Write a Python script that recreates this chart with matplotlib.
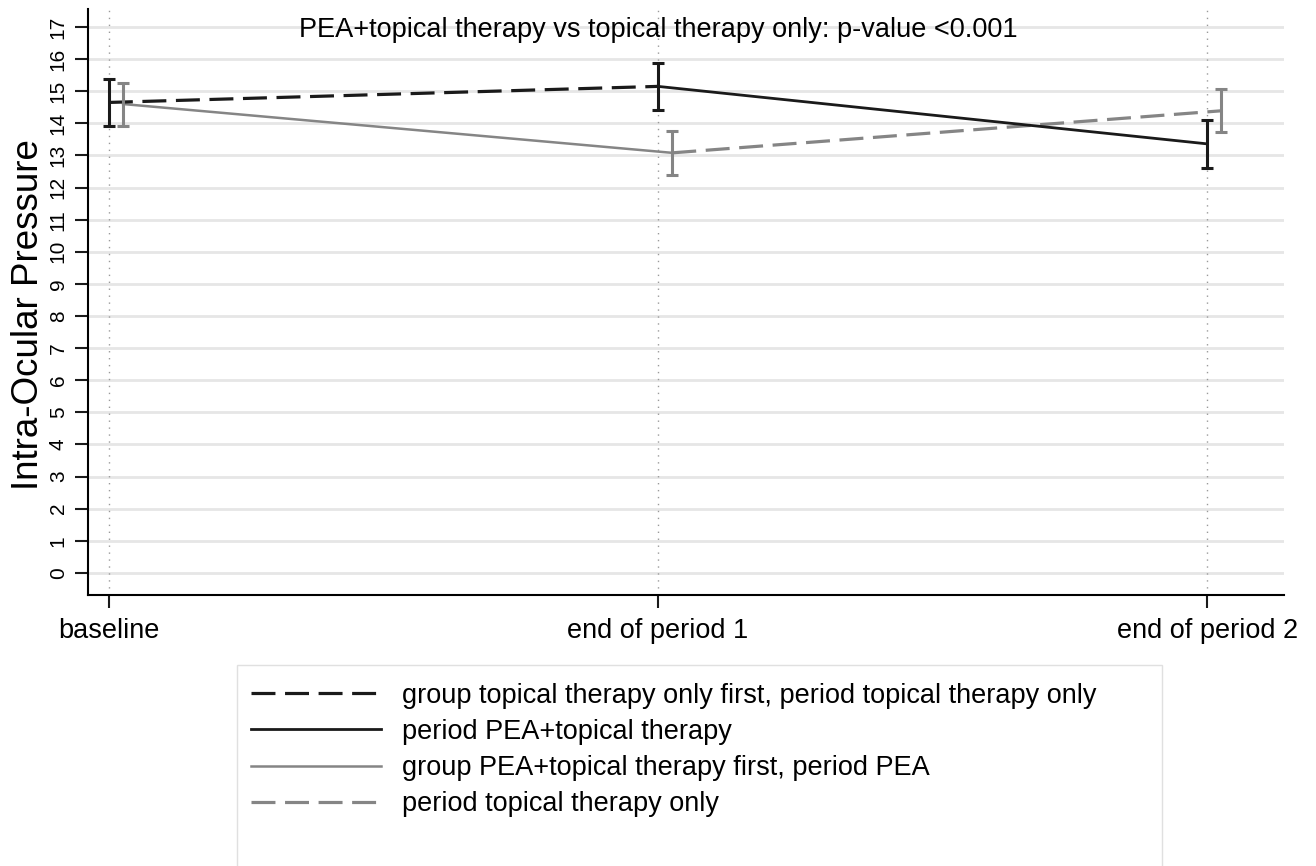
import matplotlib.pyplot as plt
from matplotlib.patches import Rectangle
import numpy as np

plt.rcParams['font.family'] = ['Liberation Sans', 'DejaVu Sans']

# --- data ---
timepoints = ['baseline', 'end of period 1', 'end of period 2']
# group topical therapy only first (black)
topical_first_mean = [14.65, 15.15, 13.36]
topical_first_lo = [13.92, 14.41, 12.62]
topical_first_hi = [15.38, 15.89, 14.10]
# group PEA+topical therapy first (gray)
pea_first_mean = [14.60, 13.08, 14.39]
pea_first_lo = [13.93, 12.39, 13.72]
pea_first_hi = [15.24, 13.76, 15.06]

yticks = list(range(0, 18))
title = 'PEA+topical therapy vs topical therapy only: p-value <0.001'
labels = ['group topical therapy only first, period topical therapy only',
          'period PEA+topical therapy',
          'group PEA+topical therapy first, period PEA',
          'period topical therapy only']

black = '#1a1a1a'
gray = '#858585'

fig = plt.figure(figsize=(13.16, 8.66), dpi=100)
ax = fig.add_axes([88 / 1316, 1 - 595 / 866, (1284 - 88) / 1316, (595 - 9) / 866])

x = np.arange(len(timepoints))
xg = x + 0.026

# grid
for v in yticks:
    ax.axhline(v, color='#e6e6e6', lw=2, zorder=0)
for xv in x:
    ax.axvline(xv, color='#9a9a9a', lw=1, ls=(0, (1, 4)), zorder=0)

# lines
l1, = ax.plot(x[:2], topical_first_mean[:2], color=black, lw=2.3, ls=(0, (7.5, 3)), zorder=3)
l2, = ax.plot(x[1:], topical_first_mean[1:], color=black, lw=2.0, zorder=3)
l3, = ax.plot(xg[:2], pea_first_mean[:2], color=gray, lw=1.8, zorder=2)
l4, = ax.plot(xg[1:], pea_first_mean[1:], color=gray, lw=2.3, ls=(0, (7.5, 3)), zorder=2)

# confidence intervals
m = np.array(topical_first_mean)
ax.errorbar(x, m, yerr=[m - np.array(topical_first_lo), np.array(topical_first_hi) - m],
            fmt='none', ecolor=black, elinewidth=2.2, capsize=4.5, capthick=2.2, zorder=4)
m = np.array(pea_first_mean)
ax.errorbar(xg, m, yerr=[m - np.array(pea_first_lo), np.array(pea_first_hi) - m],
            fmt='none', ecolor=gray, elinewidth=2.2, capsize=4.5, capthick=2.2, zorder=4)

ax.text(1, 16.9, title, ha='center', va='center', fontsize=19.5)

ax.set_xlim(-0.038, 2.140)
ax.set_ylim(-0.69, 17.56)
ax.set_xticks(x)
ax.set_xticklabels(timepoints, fontsize=19.5)
ax.set_yticks(yticks)
ax.set_yticklabels([str(v) for v in yticks], rotation=90, va='center', fontsize=15)
ax.tick_params(axis='both', length=9.5, width=1.5, color=black)
ax.tick_params(axis='x', pad=7)
ax.tick_params(axis='y', pad=5)
ax.spines['top'].set_visible(False)
ax.spines['right'].set_visible(False)
ax.spines['left'].set_linewidth(1.5)
ax.spines['bottom'].set_linewidth(1.5)
ax.set_ylabel('Intra-Ocular Pressure', fontsize=26.5)
ax.yaxis.set_label_coords(-0.035, 0.478)

# legend box runs past the bottom edge of the figure
fig.patches.append(Rectangle((237 / 1316, -0.05), (1162 - 237) / 1316, 0.05 + 1 - 665 / 866,
                             transform=fig.transFigure, facecolor='white',
                             edgecolor='#e0e0e0', lw=1, zorder=0))
leg = fig.legend([l1, l2, l3, l4], labels, loc='upper left',
                 bbox_to_anchor=(233 / 1316, 1 - 665 / 866), borderaxespad=0,
                 fontsize=19.5, frameon=False, handlelength=4.8, handletextpad=0.8,
                 labelspacing=0.38, borderpad=0.65)

fig.savefig('out.png', dpi=100)
